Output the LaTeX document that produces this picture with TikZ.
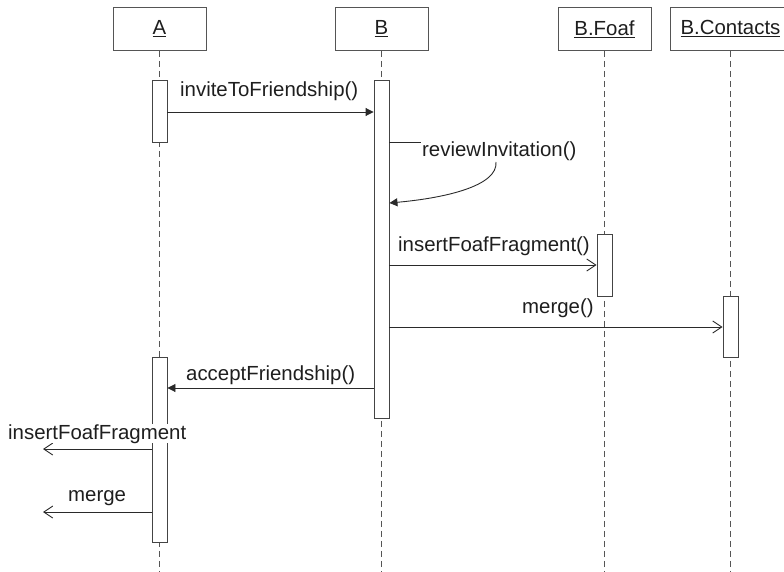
\documentclass[tikz,border=0pt]{standalone}
\usepackage{fontspec}
\setmainfont{Liberation Sans}
\usetikzlibrary{arrows.meta}
\definecolor{txt}{HTML}{1E1E1E}
\definecolor{boxc}{HTML}{555555}
\definecolor{actc}{HTML}{444444}
\definecolor{lifec}{HTML}{555555}
\definecolor{linec}{HTML}{2A2A2A}
\begin{document}
\begin{tikzpicture}[x=1pt,y=-1pt,
  font=\fontsize{20.4}{24}\selectfont, text=txt,
  obj/.style={draw=boxc, line width=0.9pt, fill=white, minimum height=43pt,
    inner sep=0pt, anchor=north},
  act/.style={draw=actc, line width=0.9pt, fill=white, minimum width=15pt,
    inner sep=0pt, anchor=north},
  life/.style={draw=lifec, line width=0.9pt, dash pattern=on 6pt off 4pt},
  call/.style={draw=linec, line width=0.9pt, -{Triangle[length=8pt,width=8pt]}},
  async/.style={draw=linec, line width=0.9pt, -{Straight Barb[length=9pt,width=12pt]}},
  lbl/.style={anchor=base west, inner sep=0pt}]
\useasboundingbox (0,0) rectangle (784,572);
\clip (0,0) rectangle (784,572);

% objects
\node[obj, minimum width=93pt]  (oA) at (159.5,7) {\underline{A}};
\node[obj, minimum width=93pt]  (oB) at (381.5,7) {\underline{B}};
\node[obj, minimum width=93pt]  (oF) at (604.5,7) {\underline{B.Foaf}};
\node[obj, minimum width=120pt] (oC) at (730.5,7) {\underline{B.Contacts}};

% lifelines
\draw[life] (oA.south) -- ++(0,522);
\draw[life] (oB.south) -- ++(0,522);
\draw[life] (oF.south) -- ++(0,522);
\draw[life] (oC.south) -- ++(0,522);

% activations
\node[act, minimum height=62pt]  (aA1) at (159.5,80) {};
\node[act, minimum height=338pt] (aB)  at (381.5,80) {};
\node[act, minimum height=62pt]  (aF)  at (604.5,234) {};
\node[act, minimum height=61pt]  (aC)  at (730.5,296) {};
\node[act, minimum height=185pt] (aA2) at (159.5,357) {};

% inviteToFriendship()
\draw[call] ([yshift=-32pt]aA1.north east) -- ([yshift=-32pt]aB.north west);
\node[lbl] (l1) at (180,97) {inviteToFriendship()};

% reviewInvitation() (self call)
\node[lbl] (l2) at (422,157) {reviewInvitation()};
\coordinate (rvA) at (421,142);
\coordinate (rvB) at (496,162);
\draw[draw=linec, line width=0.9pt] ([yshift=-62pt]aB.north east) -- (rvA);
\draw[call] (rvB) .. controls (498,186) and (445,198) .. ([yshift=-123pt]aB.north east);

% insertFoafFragment()
\draw[async] ([yshift=-185pt]aB.north east) -- ([yshift=-31pt]aF.north west);
\node[lbl] (l3) at (398,251) {insertFoafFragment()};

% merge()
\draw[async] ([yshift=-247pt]aB.north east) -- ([yshift=-31pt]aC.north west);
\node[lbl] (l4) at (522,313) {merge()};

% acceptFriendship()
\draw[call] ([yshift=-308pt]aB.north west) -- ([yshift=-31pt]aA2.north east);
\node[lbl] (l5) at (186,380) {acceptFriendship()};

% outgoing messages from A
\coordinate (out1) at (43,449);
\coordinate (out2) at (43,512);
\draw[async] ([yshift=-92pt]aA2.north west) -- (out1);
\node[lbl, fill=white] (l6) at (8,439) {insertFoafFragment};
\draw[async] ([yshift=-155pt]aA2.north west) -- (out2);
\node[lbl] (l7) at (68,501) {merge};
\end{tikzpicture}
\end{document}
